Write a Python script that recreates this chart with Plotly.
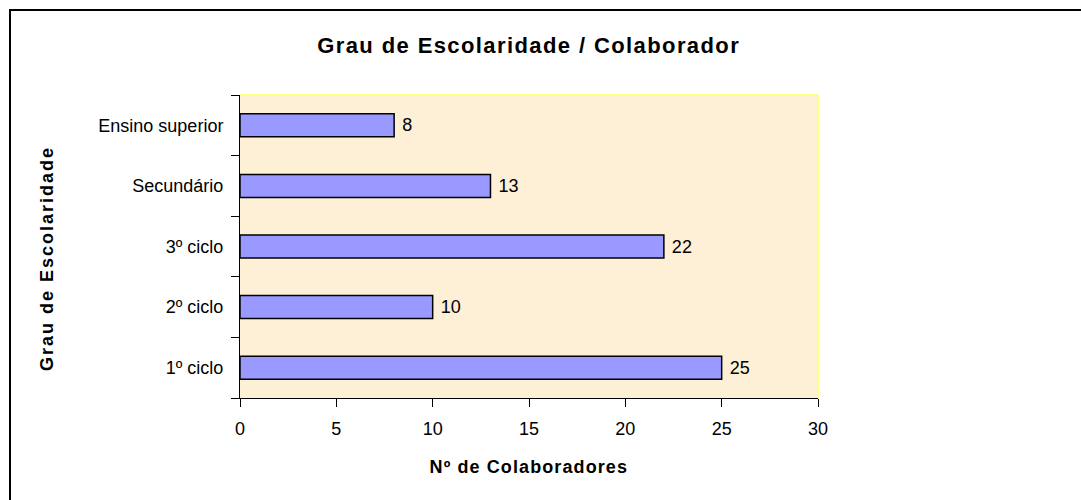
import plotly.graph_objects as go

categories = ["1º ciclo", "2º ciclo", "3º ciclo", "Secundário", "Ensino superior"]
values = [25, 10, 22, 13, 8]
x_ticks = [0, 5, 10, 15, 20, 25, 30]

W, H = 1081, 500
L, R, T, B = 240, 818, 95, 398
pw, ph = R - L, B - T

def px(x):
    return (x - L) / pw

def py(y):
    return (B - y) / ph

font = "Liberation Sans, Arial, sans-serif"

fig = go.Figure(go.Bar(
    x=values, y=categories, orientation="h",
    width=0.38,
    marker=dict(color="#9999FF", line=dict(color="black", width=1.5)),
    text=["\u00a0" + str(v) for v in values], textposition="outside",
    textfont=dict(family=font, size=18, color="black"),
    cliponaxis=False,
))

fig.update_layout(
    width=W, height=H,
    margin=dict(l=L, r=W - R, t=T, b=H - B),
    paper_bgcolor="white",
    plot_bgcolor="#FDF0D7",
    showlegend=False,
    font=dict(family=font, size=18, color="black"),
    xaxis=dict(range=[0, 30], tickvals=x_ticks, ticks="outside", ticklen=8,
               tickcolor="black", showline=True, linecolor="black", linewidth=1,
               showgrid=False, zeroline=False, tickfont=dict(size=18),
               ticklabelstandoff=6),
    yaxis=dict(type="category", categoryorder="array", categoryarray=categories,
               ticks="outside", ticklen=8, tickcolor="black", tickson="boundaries",
               showline=True, linecolor="black", linewidth=1, showgrid=False,
               tickfont=dict(size=18), ticklabelstandoff=12),
    annotations=[
        dict(text="<b>Grau de Escolaridade / Colaborador</b>", x=px(529), y=py(45),
             xanchor="center", yanchor="middle",
             xref="paper", yref="paper", showarrow=False, font=dict(size=22)),
        dict(text="<b>Nº de Colaboradores</b>", x=px(529), y=py(467),
             xanchor="center", yanchor="middle",
             xref="paper", yref="paper", showarrow=False, font=dict(size=18)),
        dict(text="<b>Grau de Escolaridade</b>", x=px(47), y=py(259), textangle=-90,
             xanchor="center", yanchor="middle",
             xref="paper", yref="paper", showarrow=False, font=dict(size=18)),
    ],
    shapes=[
        dict(type="rect", xref="paper", yref="paper", x0=px(10), y0=py(10),
             x1=px(1200), y1=py(700), line=dict(color="black", width=2)),
        dict(type="line", xref="paper", yref="paper", x0=0, y0=1, x1=1, y1=1,
             line=dict(color="#FFFF80", width=2)),
        dict(type="line", xref="paper", yref="paper", x0=1, y0=0, x1=1, y1=1,
             line=dict(color="#FFFF80", width=2)),
    ],
)

post = """
document.body.style.margin = '0';
var sp = ['1.4px', '1.1px', '2px'];
document.querySelectorAll('.annotation-text').forEach(function(el, i){
  el.style.letterSpacing = sp[i] || '0px';
});
"""

fig.write_html("out.html", post_script=post, config={"displayModeBar": False})
